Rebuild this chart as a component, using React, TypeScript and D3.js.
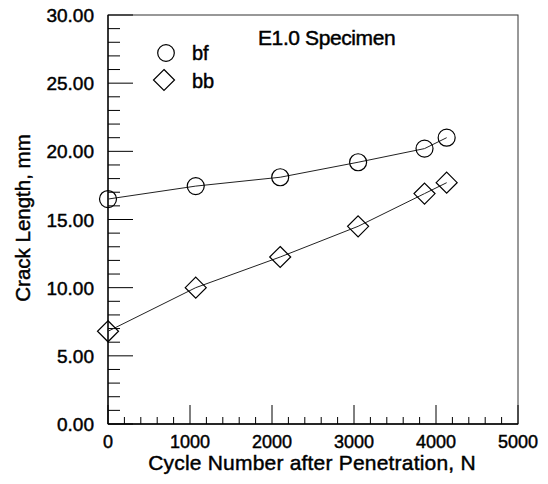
import React from "react";
import * as d3 from "d3";

// cycle number after penetration
const cycles = [0, 1070, 2100, 3050, 3860, 4130];
const bfLength = [16.5, 17.45, 18.1, 19.2, 20.2, 21.0];
const bbLength = [6.8, 10.0, 12.25, 14.5, 16.9, 17.7];
const xTicks = [0, 1000, 2000, 3000, 4000, 5000];
const yTicks = [0, 5, 10, 15, 20, 25, 30];

const W = 548;
const H = 484;
const m = { left: 108, right: 30, top: 15, bottom: 60 };
const font = "'Liberation Sans', Arial, sans-serif";
const ink = "#000";
// scanned look: glyphs a little heavier than plain Arial
const txt = { fill: ink, stroke: ink, strokeWidth: 0.45 };

export default function App() {
  const x = d3.scaleLinear().domain([0, 5000]).range([m.left, W - m.right]);
  const y = d3.scaleLinear().domain([0, 30]).range([H - m.bottom, m.top]);
  const line = d3
    .line<[number, number]>()
    .x((d) => x(d[0]))
    .y((d) => y(d[1]));
  const bf = cycles.map((c, i) => [c, bfLength[i]] as [number, number]);
  const bb = cycles.map((c, i) => [c, bbLength[i]] as [number, number]);
  const diamond = (cx: number, cy: number, r = 10.5) =>
    `M${cx},${cy - r}L${cx + r},${cy}L${cx},${cy + r}L${cx - r},${cy}Z`;

  const xMinor = d3.range(0, 5001, 200).filter((v) => v % 1000 !== 0);
  const yMinor = d3.range(0, 31, 1).filter((v) => v % 5 !== 0);
  const [x0, x1] = x.range();
  const [y0, y1] = y.range();

  return (
    <svg
      width={W}
      height={H}
      style={{ position: "absolute", left: 0, top: 0, background: "#fff" }}
      fontFamily={font}
    >
      <rect x={x0} y={y1} width={x1 - x0} height={y0 - y1} fill="none" stroke="#333" strokeWidth={1} />
      <line x1={x0} x2={x0} y1={y1} y2={y0} stroke={ink} strokeWidth={1.3} />
      <line x1={x0} x2={x1} y1={y0} y2={y0} stroke={ink} strokeWidth={1.3} />
      {/* ticks */}
      {xTicks.map((t) => (
        <line key={"xt" + t} x1={x(t)} x2={x(t)} y1={y0} y2={y0 - 19} stroke={ink} />
      ))}
      {xMinor.map((t) => (
        <line key={"xm" + t} x1={x(t)} x2={x(t)} y1={y0} y2={y0 - 7} stroke={ink} />
      ))}
      {yTicks.map((t) => (
        <line key={"yt" + t} x1={x0} x2={x0 + 25} y1={y(t)} y2={y(t)} stroke={ink} />
      ))}
      {yMinor.map((t) => (
        <line key={"ym" + t} x1={x0} x2={x0 + 12} y1={y(t)} y2={y(t)} stroke={ink} />
      ))}
      {xTicks.map((t) => (
        <text key={"xl" + t} x={x(t)} y={y0 + 24} textAnchor="middle" fontSize={18} {...txt}>
          {t}
        </text>
      ))}
      {yTicks.map((t) => (
        <text key={"yl" + t} x={x0 - 14} y={y(t) + 7} textAnchor="end" fontSize={19} {...txt}>
          {t.toFixed(2)}
        </text>
      ))}
      <text x={312} y={470} textAnchor="middle" fontSize={21} {...txt} letterSpacing={0.2}>
        Cycle Number after Penetration, N
      </text>
      <text
        transform={`translate(30,218) rotate(-90)`}
        textAnchor="middle"
        fontSize={20.5}
        {...txt}
      >
        Crack Length, mm
      </text>
      {/* series */}
      <path d={line(bf) ?? ""} fill="none" stroke="#222" strokeWidth={1} />
      <path d={line(bb) ?? ""} fill="none" stroke="#222" strokeWidth={1} />
      {bf.map((d, i) => (
        <circle key={"c" + i} cx={x(d[0])} cy={y(d[1])} r={8.5} fill="none" stroke={ink} strokeWidth={1.2} />
      ))}
      {bb.map((d, i) => (
        <path key={"d" + i} d={diamond(x(d[0]), y(d[1]))} fill="none" stroke={ink} strokeWidth={1.2} />
      ))}
      {/* legend */}
      <text x={258} y={45} fontSize={21} {...txt} letterSpacing={-0.4}>
        E1.0 Specimen
      </text>
      <circle cx={166} cy={53} r={8.3} fill="none" stroke={ink} strokeWidth={1.2} />
      <text x={192} y={60} fontSize={20} {...txt}>bf</text>
      <path d={diamond(164, 80, 10.5)} fill="none" stroke={ink} strokeWidth={1.2} />
      <text x={192} y={88} fontSize={20} {...txt}>bb</text>
    </svg>
  );
}
